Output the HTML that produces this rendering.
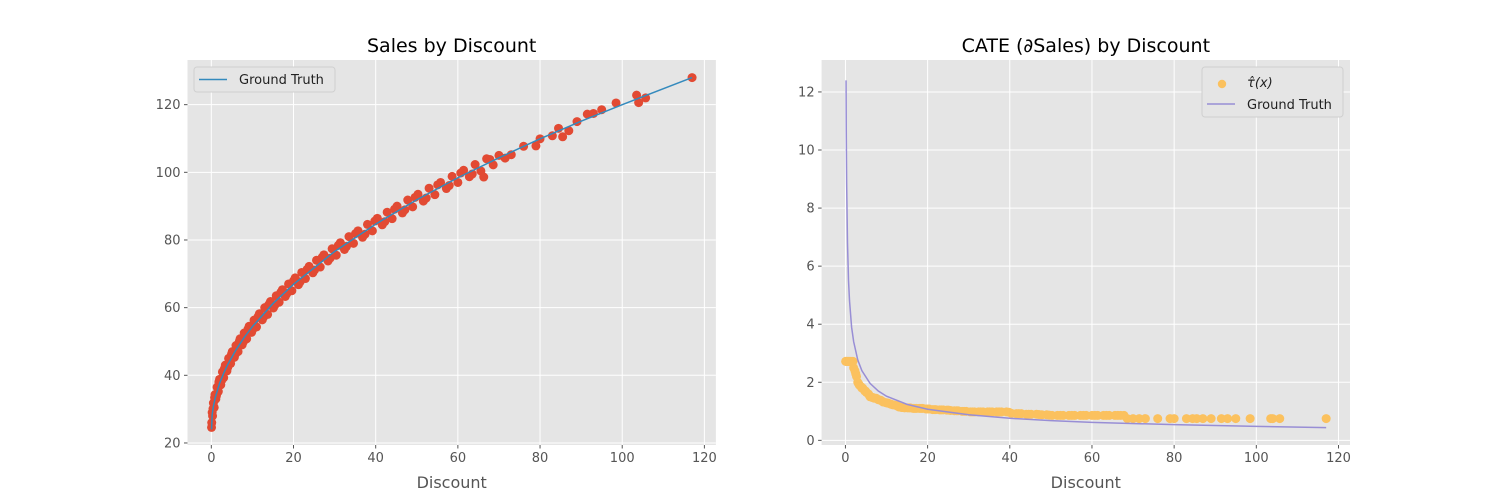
<!DOCTYPE html>
<html><head><meta charset="utf-8"><style>
body{margin:0;background:#fff;}
svg{display:block;font-family:"DejaVu Sans","Liberation Sans",sans-serif;}
</style></head><body>
<svg id="fig" width="1500" height="500" viewBox="0 0 1500 500"></svg>
<script>
const discounts=[0.05,0.1,0.2,0.3,0.5,0.7,0.9,1.1,1.4,1.7,
2,2.3,2.7, 3,3.4,3.8, 4.2,4.7,5.1,5.6, 6,6.5,7,7.5,8,8.6, 9.2,9.8,10.4,11,11.7,12.4,
13,13.7,14.4,15.1,15.8,16.5,17.3,18,18.8,19.6,
20.4,21.2,22,22.9,23.8,24.7,25.6,26.5,27.4,28.4,29.4,
30.4,31.4,32.4,33.5,34.6,35.7,36.8,38,39.2,
40.4,41.6,42.8,44,45.2,46.5,47.8,49,
50.3,51.6,53,54.4,55.8,57.2,58.6,60,61.4,62.8,64.2,65.6,67,
68.6,70,71.5,73,76,79,80,83,84.5,85.5,87,89,91.5,93,95,98.5,103.5,104,105.7,117,
0.4,0.8,1.25,1.85,2.5,3.2,4.0,4.9,5.8,6.8,7.8,8.9,10.1,11.35,12.7,14.0,15.5,16.9,18.4,20,
21.6,23.3,25.1,27,28.9,30.9,32.9,35.1,37.4,39.8,42.2,44.6,47.1,49.6,52.3,55.1,57.9,60.7,63.5,66.3,67.8];
const sales=[24.6,26.0,29.0,28.0,31.8,30.5,34.3,33.0,36.5,35.2,
38.8,37.2,41.0, 39.3,43.0,41.3, 45.0,43.5,47.0,45.3, 48.8,47.0,50.8,49.0,52.5,50.8, 54.5,52.7,56.3,54.3,58.2,56.4,
60.0,58.0,61.8,59.9,63.5,61.6,65.3,63.3,67.0,65.0,
68.8,66.8,70.4,68.6,72.2,70.3,74.0,72.0,75.6,73.8,77.4,
75.5,79.2,77.2,81.0,79.0,82.7,80.8,84.6,82.7,
86.4,84.5,88.2,86.3,90.0,88.0,91.8,89.8,
93.5,91.5,95.3,93.4,97.0,95.2,98.8,97.0,100.6,98.7,102.3,100.4,104.0,
102.2,105.0,104.2,105.2,107.7,107.8,109.9,110.8,113.0,110.5,112.3,115.0,117.2,117.4,118.5,120.5,122.8,120.6,122.0,128,
30.1,33.4,34.0,38.0,38.5,42.0,42.4,46.2,46.2,50.0,49.9,53.6,53.6,57.3,57.2,60.9,60.8,64.5,64.2,67.9,
67.6,71.3,71.1,74.9,74.6,78.4,78.1,81.9,81.7,85.6,85.4,89.1,88.9,92.6,92.4,96.3,96.1,99.8,99.5,98.6,103.8];
const tauHat=[2.72,2.72,2.72,2.72,2.72,2.72,2.72,2.72,2.72,2.72,
2.5,2.4,2.2, 2.0,1.9,1.85, 1.8,1.7,1.65,1.6, 1.5,1.48,1.45,1.45,1.4,1.38, 1.32,1.3,1.28,1.25,1.22,1.2,
1.15,1.13,1.12,1.12,1.12,1.1,1.1,1.1,1.1,1.08,
1.08,1.06,1.06,1.05,1.05,1.04,1.03,1.02,1.02,1.0,1.0,
0.98,0.98,0.98,0.98,0.98,0.98,0.98,0.98,0.98,
0.93,0.92,0.92,0.9,0.9,0.9,0.88,0.88,
0.86,0.86,0.86,0.86,0.86,0.86,0.86,0.86,0.86,0.86,0.86,0.86,0.86,
0.75,0.75,0.75,0.75,0.75,0.75,0.75,0.75,0.75,0.75,0.75,0.75,0.75,0.75,0.75,0.75,0.75,0.75,0.75,0.75,
2.72,2.72,2.72,2.72,2.3,1.95,1.8,1.7,1.55,1.47,1.42,1.35,1.29,1.23,1.18,1.13,1.12,1.1,1.1,1.08,
1.06,1.05,1.04,1.02,1.0,0.98,0.98,0.98,0.98,0.97,0.92,0.9,0.89,0.87,0.86,0.86,0.86,0.86,0.86,0.86,0.86];
const gtX=[0.05,0.2,0.5,1,2,3,4,6,8,10,15,20,30,40,50,60,70,80,90,100,117];
const gtSales=[24.0,28.3,30.8,33.6,37.6,40.6,43.2,47.5,51.2,54.4,61.2,66.9,76.6,84.7,91.9,98.4,104.3,109.9,115.1,120.0,128.0];
const gtCateX=[0.15,0.2,0.3,0.5,0.75,1,1.5,2,3,4,6,8,10,15,20,30,40,50,60,80,100,117];
const gtCate=[12.4,10.7,8.8,6.8,5.5,4.8,3.9,3.4,2.77,2.4,1.96,1.7,1.52,1.24,1.07,0.88,0.76,0.68,0.62,0.54,0.48,0.44];
const xTicks=[0,20,40,60,80,100,120];
const yTicksL=[20,40,60,80,100,120];
const yTicksR=[0,2,4,6,8,10,12];

const NS="http://www.w3.org/2000/svg";
const fig=document.getElementById('fig');
function mk(tag,attrs,parent){const e=document.createElementNS(NS,tag);for(const k in attrs)e.setAttribute(k,attrs[k]);(parent||fig).appendChild(e);return e;}

function panel(px,name,title,ylim,yTicks,drawFn){
  const W=528.4,top=60,H=385,xlim=[-5.8,122.8];
  const g=mk('g',{});
  
  
  const sx=v=>px+(v-xlim[0])/(xlim[1]-xlim[0])*W;
  const sy=v=>top+H-(v-ylim[0])/(ylim[1]-ylim[0])*H;
  const bg=mk('rect',{x:px,y:top,width:W,height:H,fill:'#E5E5E5'},g);
  
  
  xTicks.forEach(t=>{const X=sx(t);
    mk('line',{x1:X,x2:X,y1:top,y2:top+H,stroke:'#fff','stroke-width':1},g);
    mk('line',{x1:X,x2:X,y1:top+H,y2:top+H+3.5,stroke:'#555'},g);
    const tx=mk('text',{x:X,y:top+H+17,'text-anchor':'middle','font-size':13,fill:'#555'},g);tx.textContent=t;
    
    });
  yTicks.forEach(t=>{const Y=sy(t);
    mk('line',{x1:px,x2:px+W,y1:Y,y2:Y,stroke:'#fff','stroke-width':1},g);
    mk('line',{x1:px-3.5,x2:px,y1:Y,y2:Y,stroke:'#555'},g);
    const ty=mk('text',{x:px-7,y:Y+4.5,'text-anchor':'end','font-size':13,fill:'#555'},g);ty.textContent=t;
    
    });
  const tt=mk('text',{x:px+W/2,y:52,'text-anchor':'middle','font-size':19,fill:'#000'},g);tt.textContent=title;
  
  
  const xl=mk('text',{x:px+W/2,y:488,'text-anchor':'middle','font-size':16,fill:'#555'},g);xl.textContent='Discount';
  
  
  drawFn(g,sx,sy);
}

panel(187.5,'sales-panel','Sales by Discount',[19.4,133.2],yTicksL,(g,sx,sy)=>{
  discounts.forEach((d,i)=>{const c=mk('circle',{cx:sx(d),cy:sy(sales[i]),r:4.5,fill:'#E24A33'},g);
    
    });
  const p=mk('polyline',{points:gtX.map((x,i)=>sx(x)+','+sy(gtSales[i])).join(' '),fill:'none',stroke:'#348ABD','stroke-width':1.5},g);
  
  
  const lg=mk('g',{},g);
  
  
  mk('rect',{x:194,y:67,width:141,height:25,rx:3,fill:'#E5E5E5',stroke:'#d0d0d0'},lg);
  mk('line',{x1:199,x2:227,y1:79.5,y2:79.5,stroke:'#348ABD','stroke-width':1.5},lg);
  const t=mk('text',{x:239,y:84,'font-size':13,fill:'#222'},lg);t.textContent='Ground Truth';
});

panel(821.6,'cate-panel','CATE (\u2202Sales) by Discount',[-0.16,13.1],yTicksR,(g,sx,sy)=>{
  discounts.forEach((d,i)=>{const c=mk('circle',{cx:sx(d),cy:sy(tauHat[i]),r:4.5,fill:'#FBC15E'},g);
    
    });
  const p=mk('polyline',{points:gtCateX.map((x,i)=>sx(x)+','+sy(gtCate[i])).join(' '),fill:'none',stroke:'#988ED5','stroke-width':1.5},g);
  
  
  const lg=mk('g',{},g);
  
  
  mk('rect',{x:1202,y:67,width:141,height:50,rx:3,fill:'#E5E5E5',stroke:'#d0d0d0'},lg);
  mk('circle',{cx:1222,cy:84,r:4.2,fill:'#FBC15E'},lg);
  const t1=mk('text',{x:1247,y:87,'font-size':13,fill:'#222','font-style':'italic'},lg);t1.textContent='\u03C4\u0302(x)';
  mk('line',{x1:1207,x2:1235,y1:104,y2:104,stroke:'#988ED5','stroke-width':1.5},lg);
  const t2=mk('text',{x:1247,y:109,'font-size':13,fill:'#222'},lg);t2.textContent='Ground Truth';
});
</script>
</body></html>
